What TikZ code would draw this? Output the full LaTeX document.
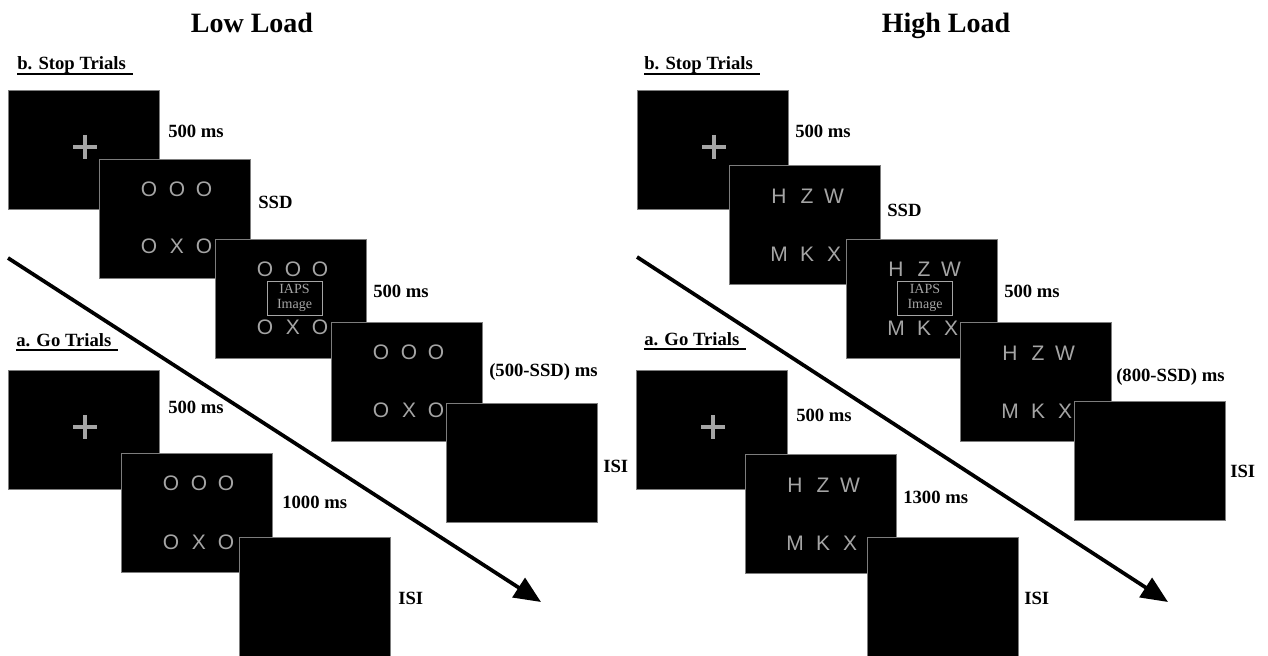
\documentclass[tikz,border=0pt]{standalone}
\usepackage{fontspec}
\setmainfont{Liberation Serif}
\newfontfamily\stimfont{Liberation Sans}
\usetikzlibrary{arrows.meta}
\definecolor{stimgray}{RGB}{165,165,165}
\definecolor{edgegray}{RGB}{125,125,125}
\tikzset{
 screen/.style={fill=black, draw=edgegray, line width=0.6pt, minimum width=113.25pt, minimum height=89.25pt, inner sep=0pt, anchor=north west},
 stim/.style={text=stimgray, font=\stimfont\fontsize{15.75}{18}\selectfont, inner sep=0pt},
 plusbar/.style={draw=stimgray, line width=3.6pt},
 lbl/.style={font=\bfseries\fontsize{14}{16}\selectfont, anchor=base west, inner sep=0pt},
 hdr/.style={font=\bfseries\fontsize{14}{16}\selectfont, anchor=base west, inner sep=0pt},
 ttl/.style={font=\bfseries\fontsize{21}{24}\selectfont, anchor=base, inner sep=0pt},
 iaps/.style={draw=stimgray, line width=0.6pt, text=stimgray, minimum width=41.25pt, minimum height=25.5pt, inner sep=0pt, align=center, font=\fontsize{10.5}{11}\selectfont},
 timeline/.style={line width=2.8pt, -{Triangle[length=20pt,width=17pt]}},
 uline/.style={line width=1.1pt}
}
\newcommand\stimrow[5]{%
 \node[stim] (#1a) at (50,#2) {#3};
 \node[stim] (#1b) at (78,#2) {#4};
 \node[stim] (#1c) at (105,#2) {#5};}
\newcommand\plusmark{\draw[plusbar] (65,57) -- (89,57) (77,45) -- (77,69);}
\begin{document}
\begin{tikzpicture}[x=0.75pt,y=-0.75pt]
\useasboundingbox (0,0) rectangle (1268,656);

% ---------------- LOW LOAD ----------------
\node[ttl] (tL) at (252,33) {Low Load};
\node[hdr] (hbL) at (17,70) {b. Stop Trials};
\draw[uline] ([yshift=-3pt]hbL.base west) -- ++(116,0);
\node[hdr] (haL) at (16,346) {a. Go Trials};
\draw[uline] ([yshift=-3pt]haL.base west) -- ++(102,0);

\coordinate (LA) at (8,258);
\coordinate (LB) at (541,602);
\draw[timeline] (LA) -- (LB);

% stop trials
\node[screen] (S1) at (8,90) {};
\begin{scope}[shift={(S1.north west)}] \plusmark \end{scope}
\node[screen] (S2) at (99,159) {};
\begin{scope}[shift={(S2.north west)}]
 \stimrow{S2u}{30}{O}{O}{O} \stimrow{S2d}{87}{O}{X}{O}
\end{scope}
\node[screen] (S3) at (215,239) {};
\begin{scope}[shift={(S3.north west)}]
 \stimrow{S3u}{30}{O}{O}{O} \stimrow{S3d}{88}{O}{X}{O}
 \node[iaps] (S3i) at (79.5,59) {IAPS\\Image};
\end{scope}
\node[screen] (S4) at (331,322) {};
\begin{scope}[shift={(S4.north west)}]
 \stimrow{S4u}{30}{O}{O}{O} \stimrow{S4d}{88}{O}{X}{O}
\end{scope}
\node[screen] (S5) at (446,403) {};

\node[lbl] (lS1) at (168,138) {500 ms};
\node[lbl] (lS2) at (258,209) {SSD};
\node[lbl] (lS3) at (373,297) {500 ms};
\node[lbl] (lS4) at (489,376) {(500-SSD) ms};
\node[lbl] (lS5) at (603,472) {ISI};

% go trials
\node[screen] (G1) at (8,370) {};
\begin{scope}[shift={(G1.north west)}] \plusmark \end{scope}
\node[screen] (G2) at (121,453) {};
\begin{scope}[shift={(G2.north west)}]
 \stimrow{G2u}{30}{O}{O}{O} \stimrow{G2d}{89}{O}{X}{O}
\end{scope}
\node[screen] (G3) at (239,537) {};

\node[lbl] (lG1) at (168,413) {500 ms};
\node[lbl] (lG2) at (282,508) {1000 ms};
\node[lbl] (lG3) at (398,604) {ISI};

% ---------------- HIGH LOAD ----------------
\node[ttl] (tH) at (946,33) {High Load};
\node[hdr] (hbH) at (644,70) {b. Stop Trials};
\draw[uline] ([yshift=-3pt]hbH.base west) -- ++(116,0);
\node[hdr] (haH) at (644,345) {a. Go Trials};
\draw[uline] ([yshift=-3pt]haH.base west) -- ++(102,0);

\coordinate (RA) at (637,257);
\coordinate (RB) at (1168,602);
\draw[timeline] (RA) -- (RB);

\node[screen] (R1) at (637,90) {};
\begin{scope}[shift={(R1.north west)}] \plusmark \end{scope}
\node[screen] (R2) at (729,165) {};
\begin{scope}[shift={(R2.north west)}]
 \stimrow{R2u}{31}{H}{Z}{W} \stimrow{R2d}{89}{M}{K}{X}
\end{scope}
\node[screen] (R3) at (846,239) {};
\begin{scope}[shift={(R3.north west)}]
 \stimrow{R3u}{30}{H}{Z}{W} \stimrow{R3d}{89}{M}{K}{X}
 \node[iaps] (R3i) at (79,59) {IAPS\\Image};
\end{scope}
\node[screen] (R4) at (960,322) {};
\begin{scope}[shift={(R4.north west)}]
 \stimrow{R4u}{31}{H}{Z}{W} \stimrow{R4d}{89}{M}{K}{X}
\end{scope}
\node[screen] (R5) at (1074,401) {};

\node[lbl] (lR1) at (795,138) {500 ms};
\node[lbl] (lR2) at (887,217) {SSD};
\node[lbl] (lR3) at (1004,297) {500 ms};
\node[lbl] (lR4) at (1116,381) {(800-SSD) ms};
\node[lbl] (lR5) at (1230,477) {ISI};

\node[screen] (H1) at (636,370) {};
\begin{scope}[shift={(H1.north west)}] \plusmark \end{scope}
\node[screen] (H2) at (745,454) {};
\begin{scope}[shift={(H2.north west)}]
 \stimrow{H2u}{31}{H}{Z}{W} \stimrow{H2d}{89}{M}{K}{X}
\end{scope}
\node[screen] (H3) at (867,537) {};

\node[lbl] (lH1) at (796,421) {500 ms};
\node[lbl] (lH2) at (903,503) {1300 ms};
\node[lbl] (lH3) at (1024,604) {ISI};
\end{tikzpicture}
\end{document}
